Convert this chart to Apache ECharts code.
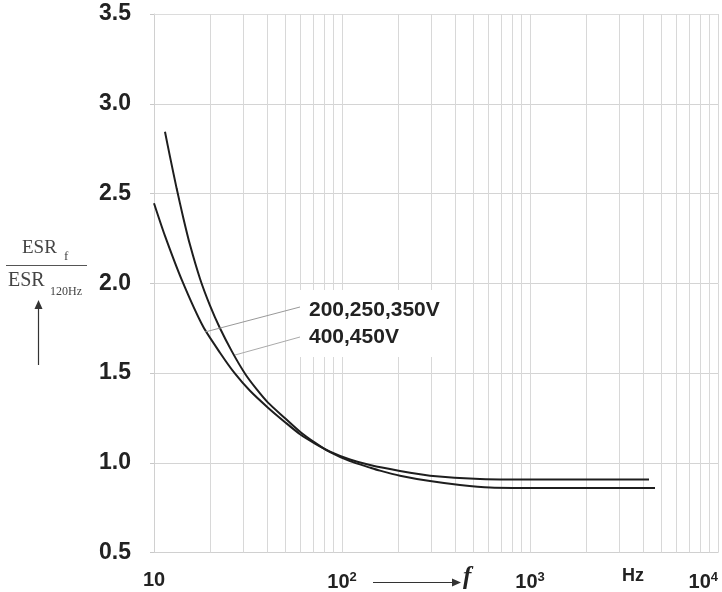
<!DOCTYPE html>
<html>
<head>
<meta charset="utf-8">
<script src="https://cdn.jsdelivr.net/npm/echarts@6/dist/echarts.min.js"></script>
<style>html,body{margin:0;padding:0;background:#fff}#c{width:722px;height:592px}</style>
</head>
<body>
<div id="c"></div>
<script>
// Frequency (Hz) and ESR_f / ESR_120Hz ratio
const freqA = [10, 11.44, 14.09, 18.22, 22.44, 26.98, 32.4, 40.4, 49.8, 59.8, 71.8, 86.4, 110.3, 140.9, 203.5, 293.8, 542, 1277, 4295];
const ratioA = [2.446, 2.264, 2.016, 1.760, 1.613, 1.496, 1.401, 1.307, 1.226, 1.159, 1.107, 1.062, 1.018, 0.987, 0.954, 0.928, 0.910, 0.906, 0.906];
const freqB = [11.44, 12.17, 13.21, 14.32, 15.54, 17.57, 19.86, 22.44, 26.0, 30.5, 35.3, 40.4, 49.8, 59.8, 71.8, 86.4, 110.3, 140.9, 159.2, 203.5, 293.8, 424.4, 612.7, 1277, 4624];
const ratioB = [2.844, 2.704, 2.526, 2.364, 2.214, 2.025, 1.875, 1.749, 1.619, 1.496, 1.407, 1.335, 1.248, 1.173, 1.112, 1.059, 1.009, 0.973, 0.956, 0.928, 0.898, 0.876, 0.862, 0.859, 0.859];
const seriesNames = ['200,250,350V', '400,450V'];
const gridFreqs = [20,30,40,50,60,70,80,90,100,200,300,400,500,600,700,800,900,1000,2000,3000,4000,5000,6000,7000,8000,9000,10000];
const yMin = 0.5, yMax = 3.5, yStep = 0.5;

const chart = echarts.init(document.getElementById('c'), null, {renderer: 'canvas'});
const toPairs = (xs, ys) => xs.map((x, i) => [x, ys[i]]);

chart.setOption({
  animation: false,
  backgroundColor: '#fff',
  grid: {left: 154, right: 4, top: 14, bottom: 39, show: false},
  xAxis: {
    type: 'log', logBase: 10, min: 10, max: 10000,
    axisLine: {show: true, lineStyle: {color: '#d0d0d0', width: 1}},
    axisTick: {show: false},
    splitLine: {show: false},
    axisLabel: {
      margin: 18, fontFamily: 'Liberation Sans', fontWeight: 'bold', fontSize: 20, color: '#222',
      alignMaxLabel: 'right',
      formatter: v => {
        const e = Math.round(Math.log10(v));
        return e === 1 ? '10' : '10{s|' + e + '}';
      },
      rich: {s: {fontSize: 13, fontFamily: 'Liberation Sans', color: '#222', verticalAlign: 'top', padding: [0, 0, 10, 0]}}
    }
  },
  yAxis: {
    type: 'value', min: yMin, max: yMax, interval: yStep,
    axisLine: {show: true, lineStyle: {color: '#d0d0d0'}},
    axisTick: {show: true, length: 4, lineStyle: {color: '#c8c8c8'}},
    splitLine: {show: true, lineStyle: {color: '#d4d4d4', width: 1}},
    axisLabel: {
      margin: 23, fontFamily: 'Liberation Sans', fontWeight: 'bold', fontSize: 23, color: '#222',
      formatter: v => v.toFixed(1)
    }
  },
  series: [
    {
      name: 'grid', type: 'line', data: [], silent: true, z: 1,
      markLine: {
        silent: true, symbol: 'none', label: {show: false},
        lineStyle: {color: '#d8d8d8', width: 1, type: 'solid'},
        data: gridFreqs.map(f => ({xAxis: f}))
      }
    },
    {
      name: seriesNames[0], type: 'line', data: toPairs(freqA, ratioA), smooth: 0.25,
      showSymbol: false, z: 5, lineStyle: {color: '#1e1e1e', width: 2}
    },
    {
      name: seriesNames[1], type: 'line', data: toPairs(freqB, ratioB), smooth: 0.25,
      showSymbol: false, z: 5, lineStyle: {color: '#1e1e1e', width: 2}
    }
  ],
  graphic: [
    {type: 'line', shape: {x1: 154, y1: 14.5, x2: 718, y2: 14.5}, style: {stroke: '#dcdcdc', lineWidth: 1}, z: 3},
    {type: 'rect', shape: {x: 300, y: 290, width: 155, height: 67}, style: {fill: '#fff'}, z: 10},
    {type: 'line', shape: {x1: 205, y1: 332, x2: 300, y2: 307}, style: {stroke: '#999', lineWidth: 1}, z: 11},
    {type: 'line', shape: {x1: 235, y1: 355, x2: 300, y2: 337}, style: {stroke: '#aaa', lineWidth: 1}, z: 11},
    {type: 'text', x: 309, y: 310, style: {text: seriesNames[0], font: 'bold 21px "Liberation Sans"', fill: '#222', textVerticalAlign: 'middle'}, z: 12},
    {type: 'text', x: 309, y: 337, style: {text: seriesNames[1], font: 'bold 21px "Liberation Sans"', fill: '#222', textVerticalAlign: 'middle'}, z: 12},
    {type: 'text', x: 22, y: 258, style: {text: 'ESR', font: '19px "Liberation Serif"', fill: '#444', textVerticalAlign: 'bottom'}, z: 12},
    {type: 'text', x: 64, y: 263, style: {text: 'f', font: '13px "Liberation Serif"', fill: '#444', textVerticalAlign: 'bottom'}, z: 12},
    {type: 'line', shape: {x1: 6, y1: 265.5, x2: 87, y2: 265.5}, style: {stroke: '#555', lineWidth: 1}, z: 12},
    {type: 'text', x: 8, y: 291, style: {text: 'ESR', font: '20px "Liberation Serif"', fill: '#444', textVerticalAlign: 'bottom'}, z: 12},
    {type: 'text', x: 50, y: 298, style: {text: '120Hz', font: '12px "Liberation Serif"', fill: '#444', textVerticalAlign: 'bottom'}, z: 12},
    {type: 'line', shape: {x1: 38.5, y1: 365, x2: 38.5, y2: 306}, style: {stroke: '#333', lineWidth: 1.2}, z: 12},
    {type: 'polygon', shape: {points: [[38.5, 300], [34.5, 309], [42.5, 309]]}, style: {fill: '#333'}, z: 12},
    {type: 'line', shape: {x1: 373, y1: 582.5, x2: 454, y2: 582.5}, style: {stroke: '#333', lineWidth: 1.2}, z: 12},
    {type: 'polygon', shape: {points: [[461, 582.5], [452, 578.5], [452, 586.5]]}, style: {fill: '#333'}, z: 12},
    {type: 'text', x: 463, y: 590, style: {text: 'f', font: 'italic bold 25px "Liberation Serif"', fill: '#222', textVerticalAlign: 'bottom'}, z: 12},
    {type: 'text', x: 622, y: 576, style: {text: 'Hz', font: 'bold 18px "Liberation Sans"', fill: '#222', textVerticalAlign: 'middle'}, z: 12}
  ]
});
</script>
</body>
</html>
